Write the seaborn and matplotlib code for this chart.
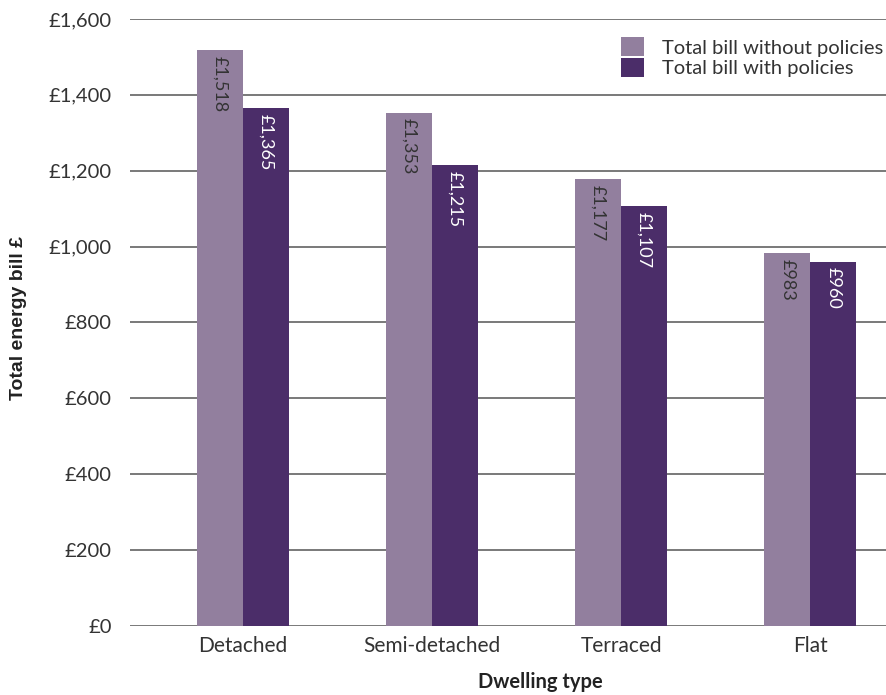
import matplotlib
matplotlib.use("Agg")
import matplotlib.pyplot as plt
import seaborn as sns
import pandas as pd
from matplotlib.patches import Patch

# Data
dwelling_types = ["Detached", "Semi-detached", "Terraced", "Flat"]
bill_without_policies = [1518, 1353, 1177, 983]
bill_with_policies = [1365, 1215, 1107, 960]
series_names = ["Total bill without policies", "Total bill with policies"]
y_ticks = [0, 200, 400, 600, 800, 1000, 1200, 1400, 1600]

colors = ["#927f9e", "#4b2d69"]

df = pd.DataFrame({
    "Dwelling type": dwelling_types * 2,
    "Series": [series_names[0]] * 4 + [series_names[1]] * 4,
    "Bill": bill_without_policies + bill_with_policies,
})

sns.set_theme(style="white")
plt.rcParams["font.family"] = ["Lato", "DejaVu Sans"]

fig = plt.figure(figsize=(8.86, 6.95), dpi=100)
ax = fig.add_axes([0.1467, 0.0993, 0.8533, 0.8734])

sns.barplot(data=df, x="Dwelling type", y="Bill", hue="Series",
            palette=colors, width=0.487, saturation=1, ax=ax,
            legend=False, errorbar=None, linewidth=0, edgecolor="none")

ax.set_ylim(0, 1600)
ax.set_xlim(-0.598, 3.40)
ax.set_yticks(y_ticks)
ax.set_yticklabels([f"£{v:,}" for v in y_ticks], fontsize=14.5, color="#333333")
ax.tick_params(axis="y", length=0, pad=13)
ax.tick_params(axis="x", length=0, pad=7, labelsize=15, labelcolor="#333333")

for s in ax.spines.values():
    s.set_visible(False)
ax.set_axisbelow(True)
ax.yaxis.grid(True, color="#6e6e6e", linewidth=1.3)
ax.xaxis.grid(False)

# Value labels inside the top of each bar
text_colors = ["#333333", "#ffffff"]
for container, tc in zip(ax.containers, text_colors):
    for bar in container:
        h = bar.get_height()
        ax.annotate(f"£{h:,.0f}", (bar.get_x() + bar.get_width() / 2, h),
                    xytext=(0, -4), textcoords="offset points",
                    rotation=270, ha="center", va="top",
                    fontsize=13, color=tc)

ax.set_xlabel("")
ax.set_ylabel("")
fig.text(0.61, 0.019, "Dwelling type", fontsize=14.5, fontweight="bold",
         color="#222222", ha="center", va="center")
fig.text(0.021, 0.543, "Total energy bill £", fontsize=14, fontweight="bold",
         family=["Liberation Sans", "DejaVu Sans"], rotation=90,
         color="#222222", ha="center", va="center")

handles = [Patch(facecolor=c, edgecolor="none") for c in colors]
ax.legend(handles, series_names, loc="upper right", frameon=False,
          fontsize=14.5, handlelength=1.1, handleheight=1.1, handletextpad=0.9,
          labelspacing=0.05, bbox_to_anchor=(1.02, 1.0),
          labelcolor="#333333")

fig.savefig("out.png", dpi=100)
